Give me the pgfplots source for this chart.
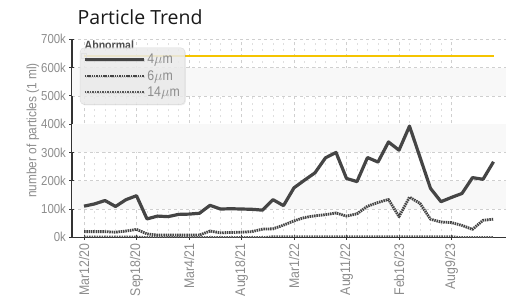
\documentclass[border=0pt]{standalone}
\usepackage{fontspec}
\setmainfont{Liberation Sans}
\newfontfamily\nar[FakeStretch=0.88]{Liberation Sans}
\newfontfamily\titlefont{Open Sans}
\usepackage{pgfplots}
\usepackage{pgfplotstable}
\pgfplotsset{compat=1.18}
\usetikzlibrary{shadows}
\definecolor{lineg}{HTML}{454545}
\definecolor{labg}{HTML}{8C8C8C}
\definecolor{gold}{HTML}{F5C400}
\definecolor{bandg}{HTML}{F8F8F8}

\pgfplotstableread{
x a b c
0 110 20 3
1 118 20 3
2 130 20 3
3 109 18 3
4 133 22 3
5 147 28 3
6 65 12 1
7 75 8 1
8 73 8 1
9 81 8 1
10 82 8 1
11 85 8 1
12 113 22 1
13 100 16 1
14 101 17 1
15 100 18 1
16 99 20 1
17 96 29 1
18 133 30 4
19 112 43 4
20 175 58 4
21 202 70 4
22 228 76 4
23 281 80 4
24 300 86 4
25 208 75 4
26 197 83 4
27 282 110 4
28 266 123 4
29 337 134 4
30 308 73 4
31 393 142 4
32 283 120 4
33 173 64 4
34 126 54 4
35 141 52 4
36 155 42 1
37 211 28 1
38 205 60 1
39 267 64 1
}\datatable

\begin{document}
\begin{tikzpicture}
\begin{axis}[
  set layers,
  scale only axis, width=434pt, height=198pt,
  at={(0,0)}, anchor=south west,
  xmin=-1.143, xmax=40.19, ymin=0, ymax=700,
  axis lines*=left,
  axis line style={draw=black!80, line width=1.1pt},
  xtick={0,5,...,35},
  xticklabels={Mar12/20,Sep18/20,Mar4/21,Aug18/21,Mar1/22,Aug11/22,Feb16/23,Aug9/23},
  x tick label style={rotate=90, anchor=east, font=\fontsize{14}{14}\selectfont\nar, text=labg},
  ytick={0,100,...,700},
  yticklabels={0k,100k,200k,300k,400k,500k,600k,700k},
  y tick label style={font=\fontsize{13}{13}\selectfont\nar, text=labg},
  minor x tick num=4,
  tick align=center, major tick length=5pt, minor tick length=0pt,
  tick style={black!80, line width=0.9pt},
  xmajorgrids, ymajorgrids, xminorgrids,
  major grid style={dash pattern=on 3pt off 3pt, gray!38, line width=0.6pt},
  minor grid style={dash pattern=on 2pt off 4pt, gray!25, line width=0.5pt},
  ylabel={number of particles (1 ml)},
  ylabel style={at={(axis description cs:-0.0899,0.54)}, anchor=center, font=\fontsize{13.5}{13.5}\selectfont\nar, text=labg},
  legend style={at={(axis description cs:0.0184,0.958)}, anchor=north west,
    fill=gray!14, fill opacity=0.85, text opacity=1, draw=gray!30,
    rounded corners=4pt, font=\fontsize{14}{16}\selectfont\nar, text=labg,
    row sep=1pt, inner xsep=3pt, inner ysep=4.5pt,
    drop shadow={opacity=0.15, shadow xshift=1pt, shadow yshift=-1pt}},
  legend cell align=left,
  legend image code/.code={\draw[#1] (0pt,0pt) -- (59pt,0pt);},
]
\fill[bandg, on layer=axis background] (axis cs:-1.143,100) rectangle (axis cs:40.19,200);
\fill[bandg, on layer=axis background] (axis cs:-1.143,300) rectangle (axis cs:40.19,400);
\fill[bandg, on layer=axis background] (axis cs:-1.143,500) rectangle (axis cs:40.19,600);

\addplot[gold, line width=2pt, forget plot, mark=square, mark indices={1},
  mark options={draw=gray!70, fill=white, line width=0.6pt}, mark size=2.5pt]
  coordinates {(0,640) (39,640)};
\coordinate (ab) at (axis cs:0,640);

\addplot[lineg, line width=3.2pt, line join=round] table[x=x,y=a] {\datatable};
\addlegendentry{4$\mu$m}
\addplot[lineg, line width=2.8pt, line join=round, dash pattern=on 1.5pt off 0.8pt] table[x=x,y=b] {\datatable};
\addlegendentry{6$\mu$m}
\addplot[lineg!90, line width=1.6pt, dash pattern=on 1.5pt off 1pt] table[x=x,y=c] {\datatable};
\addlegendentry{14$\mu$m}
\end{axis}
\node[anchor=west, inner sep=0pt, font=\fontsize{12}{12}\selectfont\nar\bfseries, text=black!70, xshift=0.5pt, yshift=11pt] at (ab) {Abnormal};
\node[anchor=base west, inner sep=0pt, font=\fontsize{19.5}{19.5}\selectfont\titlefont, text=black!90] at (5.5pt,212.5pt) {Particle Trend};
\pgfresetboundingbox
\path (-72pt,-62.7pt) rectangle (435pt,237.3pt);
\end{tikzpicture}
\end{document}
